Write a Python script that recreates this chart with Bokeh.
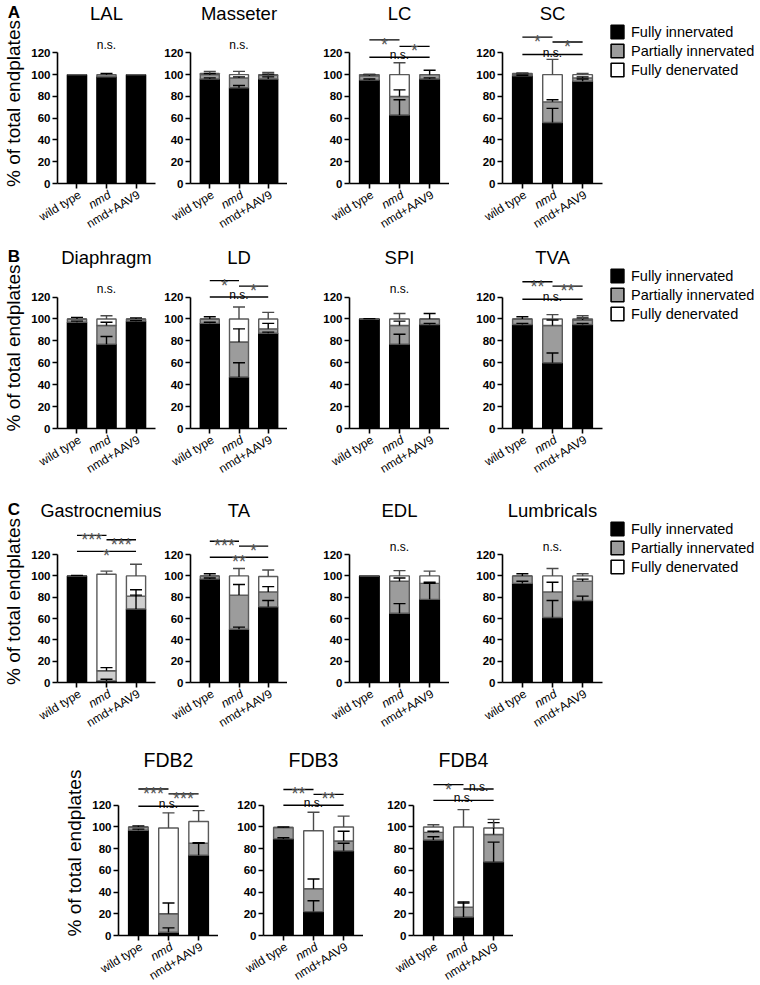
import numpy as np
from bokeh.plotting import figure
from bokeh.models import (ColumnDataSource, FactorRange, Range1d, Whisker, TeeHead,
                          Legend, LegendItem)
from bokeh.layouts import row, column
from bokeh.embed import file_html
from bokeh.resources import INLINE
from bokeh.core.properties import value

FONT = "Liberation Sans"
groups = ["wild type", "nmd", "nmd+AAV9"]
italic_groups = ["nmd"]
status = ["Fully innervated", "Partially innervated", "Fully denervated"]
status_fill = ["black", "#9c9c9c", "white"]
y_ticks = [0, 20, 40, 60, 80, 100, 120]
NS_ONLY_Y = 127

# ---------------- data (mean % of endplates, and SD) ----------------
LAL_full = [100, 98, 100]
LAL_part = [0, 2, 0]
LAL_den = [0, 0, 0]
LAL_sd_full = [0, 0, 0]
LAL_sd_part = [0, 1, 0]
LAL_sd_den = [0, 0, 0]

Masseter_full = [96, 88, 96]
Masseter_part = [4, 9, 3.5]
Masseter_den = [1, 3, 0.5]
Masseter_sd_full = [1, 2, 2]
Masseter_sd_part = [1, 1, 1]
Masseter_sd_den = [2, 3, 2]

LC_full = [95, 63, 96]
LC_part = [4, 17, 4]
LC_den = [1, 20, 0]
LC_sd_full = [1, 14, 1]
LC_sd_part = [1, 6, 4]
LC_sd_den = [0.5, 11, 0]
LC_sig = [("wild type", "nmd", 132, "*"), ("nmd", "nmd+AAV9", 126, "*"),
          ("wild type", "nmd+AAV9", 116, "n.s.")]

SC_full = [99, 56, 94]
SC_part = [1.5, 19, 3]
SC_den = [0.5, 25, 3]
SC_sd_full = [0.5, 13, 2]
SC_sd_part = [0.5, 2, 1]
SC_sd_den = [0.5, 14, 1]
SC_sig = [("wild type", "nmd", 134.5, "*"), ("nmd", "nmd+AAV9", 130, "*"),
          ("wild type", "nmd+AAV9", 118.5, "n.s.")]

Diaphragm_full = [97, 77, 98]
Diaphragm_part = [3, 17, 2]
Diaphragm_den = [0, 6, 0]
Diaphragm_sd_full = [1, 7, 0.5]
Diaphragm_sd_part = [1.5, 3, 1]
Diaphragm_sd_den = [0, 3, 0]

LD_full = [96, 47, 87]
LD_part = [4, 32, 4]
LD_den = [0, 21, 9]
LD_sd_full = [1, 13, 1]
LD_sd_part = [2, 12, 5]
LD_sd_den = [0, 11, 6]
LD_sig = [("wild type", "nmd", 135, "*"), ("nmd", "nmd+AAV9", 130, "*"),
          ("wild type", "nmd+AAV9", 120, "n.s.")]

SPI_full = [100, 77, 95]
SPI_part = [0, 17, 5]
SPI_den = [0, 6, 0]
SPI_sd_full = [0.3, 9, 1]
SPI_sd_part = [0, 4, 5]
SPI_sd_den = [0, 5, 0]

TVA_full = [95, 60, 95]
TVA_part = [5, 34, 4]
TVA_den = [0, 6, 1]
TVA_sd_full = [1, 9, 1]
TVA_sd_part = [2, 5, 2]
TVA_sd_den = [0, 4, 3]
TVA_sig = [("wild type", "nmd", 134, "**"), ("nmd", "nmd+AAV9", 130, "**"),
           ("wild type", "nmd+AAV9", 118, "n.s.")]

Gastro_full = [100, 1.5, 69]
Gastro_part = [0, 9.5, 12]
Gastro_den = [0, 90.5, 19]
Gastro_sd_full = [0.5, 1.5, 13]
Gastro_sd_part = [0, 3, 6]
Gastro_sd_den = [0, 3, 11]
Gastro_sig = [("wild type", "nmd", 138, "***"), ("nmd", "nmd+AAV9", 134, "***"),
              ("wild type", "nmd+AAV9", 123, "*")]

TA_full = [97, 50, 71]
TA_part = [3, 32, 14]
TA_den = [0, 18, 14.5]
TA_sd_full = [1, 2, 6]
TA_sd_part = [2, 10, 5]
TA_sd_den = [0, 7, 6]
TA_sig = [("wild type", "nmd", 132.5, "***"), ("nmd", "nmd+AAV9", 128, "*"),
          ("wild type", "nmd+AAV9", 117.5, "**")]

EDL_full = [100, 65, 78]
EDL_part = [0, 30, 15]
EDL_den = [0, 5, 7]
EDL_sd_full = [0, 9, 15]
EDL_sd_part = [0, 3, 1]
EDL_sd_den = [0, 5, 4.5]

Lumb_full = [93, 61, 77]
Lumb_part = [7, 24, 18]
Lumb_den = [0, 15, 5]
Lumb_sd_full = [2, 16, 4]
Lumb_sd_part = [2, 9, 2]
Lumb_sd_den = [0, 7, 2]

FDB2_full = [97, 3, 74]
FDB2_part = [3, 17, 11]
FDB2_den = [0, 79, 20]
FDB2_sd_full = [1, 4, 11]
FDB2_sd_part = [1, 10, 0.5]
FDB2_sd_den = [0, 14, 10]
FDB2_sig = [("wild type", "nmd", 135, "***"), ("nmd", "nmd+AAV9", 130.5, "***"),
            ("wild type", "nmd+AAV9", 119, "n.s.")]

FDB3_full = [89, 22, 78]
FDB3_part = [10.5, 21, 9]
FDB3_den = [0, 53.5, 13]
FDB3_sd_full = [1, 10, 7]
FDB3_sd_part = [0.5, 9, 9]
FDB3_sd_den = [0, 17, 10]
FDB3_sig = [("wild type", "nmd", 134.5, "**"), ("nmd", "nmd+AAV9", 130, "**"),
            ("wild type", "nmd+AAV9", 120, "n.s.")]

FDB4_full = [88, 17, 68]
FDB4_part = [7, 9, 25]
FDB4_den = [5, 74, 6]
FDB4_sd_full = [3, 13, 18]
FDB4_sd_part = [1, 5, 11]
FDB4_sd_den = [2, 16, 8]
FDB4_sig = [("wild type", "nmd", 139, "*"), ("nmd", "nmd+AAV9", 135, "n.s."),
            ("wild type", "nmd+AAV9", 124.5, "n.s.")]

LABEL_ANGLE = 0.55
RANGE_PAD = 0.16
FRAME_W = 100
SOURCES = {}


def make_panel(title, full, part, den, sd_full, sd_part, sd_den, sig=None, *,
               width, left, right, top, frame_h, bottom, y_end,
               ylabel=False, letter=None, gray="#9c9c9c",
               title_size="18.5px", title_align="center", title_offset=0):
    p = figure(width=width, height=top + frame_h + bottom,
               x_range=FactorRange(factors=groups, range_padding=RANGE_PAD,
                                   range_padding_units="absolute"),
               y_range=Range1d(0, y_end), output_backend="svg", toolbar_location=None,
               min_border_left=left, min_border_right=right, min_border_top=top,
               min_border_bottom=bottom, outline_line_color=None,
               background_fill_color="white", border_fill_color="white", title=title)
    p.title.align = title_align
    p.title.offset = title_offset
    p.title.text_font = FONT
    p.title.text_font_size = title_size
    p.title.text_font_style = "normal"
    p.title.text_color = "black"
    p.title.standoff = 0
    p.xgrid.grid_line_color = None
    p.ygrid.grid_line_color = None

    # axes
    p.yaxis.ticker = y_ticks
    p.yaxis.bounds = (0, 120)
    p.yaxis.minor_tick_line_color = None
    p.yaxis.major_tick_in = 0
    p.yaxis.major_tick_out = 5
    p.yaxis.major_label_standoff = 2
    p.yaxis.major_label_text_font = FONT
    p.yaxis.major_label_text_font_style = "bold"
    p.yaxis.major_label_text_font_size = "11.5px"
    p.yaxis.major_label_text_color = "black"
    for ax in (p.xaxis, p.yaxis):
        ax.axis_line_width = 1.6
        ax.major_tick_line_width = 1.6
        ax.axis_line_color = "black"
        ax.major_tick_line_color = "black"
    p.xaxis.major_tick_in = 0
    p.xaxis.major_tick_out = 5
    p.xaxis.major_label_text_font_size = "0px"
    p.xaxis.major_label_text_color = None
    p.xaxis.major_label_standoff = 0
    if ylabel:
        p.yaxis.axis_label = "% of total endplates"
        p.yaxis.axis_label_text_font = FONT
        p.yaxis.axis_label_text_font_size = "19px"
        p.yaxis.axis_label_text_font_style = "normal"
        p.yaxis.axis_label_text_color = "black"
        p.yaxis.axis_label_standoff = 4

    # stacked bars
    src = ColumnDataSource(dict(group=groups, full=full, part=part, den=den))
    SOURCES[title] = src
    p.vbar_stack(["full", "part", "den"], x="group", width=0.65, source=src,
                 fill_color=["black", gray, "white"],
                 line_color=["black", "#5a5a5a", "#5a5a5a"], line_width=1.4)

    # error bars (upper SD) at the top of each stacked segment
    f, pa, d = np.array(full, float), np.array(part, float), np.array(den, float)
    tops = [f, f + pa, f + pa + d]
    for top_vals, sds, col in zip(tops, [sd_full, sd_part, sd_den],
                                  ["black", "black", "#4a4a4a"]):
        keep = [i for i in range(3) if sds[i] > 0]
        if not keep:
            continue
        wsrc = ColumnDataSource(dict(base=[groups[i] for i in keep],
                                     lower=[float(top_vals[i]) for i in keep],
                                     upper=[float(top_vals[i] + sds[i]) for i in keep]))
        p.add_layout(Whisker(source=wsrc, base="base", lower="lower", upper="upper",
                             dimension="height", line_color=col, line_width=1.4,
                             upper_head=TeeHead(size=12, line_color=col, line_width=1.4),
                             lower_head=None, level="annotation"))

    # significance
    if sig:
        x0 = [groups.index(a) + 0.5 for a, b, y, t in sig]
        x1 = [groups.index(b) + 0.5 for a, b, y, t in sig]
        ys = [y for a, b, y, t in sig]
        p.segment(x0=x0, y0=ys, x1=x1, y1=ys, line_color="black", line_width=1.4)
        mids = [(a + b) / 2 for a, b in zip(x0, x1)]
        st = [(m, y, t) for m, (aa, bb, y, t) in zip(mids, sig) if t != "n.s."]
        ns = [(m, y, t) for m, (aa, bb, y, t) in zip(mids, sig) if t == "n.s."]
        if st:
            p.text(x=[s[0] for s in st], y=[s[1] for s in st], text=[s[2] for s in st],
                   text_align="center", text_baseline="alphabetic", y_offset=5,
                   text_font=value(FONT), text_font_size="18px", text_color="#555555")
        if ns:
            p.text(x=[s[0] for s in ns], y=[s[1] for s in ns], text=[s[2] for s in ns],
                   text_align="center", text_baseline="alphabetic", y_offset=-2,
                   text_font=value(FONT), text_font_size="12px", text_color="black")
    else:
        p.text(x=[groups[1]], y=[NS_ONLY_Y], text=["n.s."], text_align="center",
               text_baseline="middle", text_font=value(FONT), text_font_size="12px",
               text_color="black")

    # rotated category labels (nmd in italics)
    normal = [g for g in groups if g not in italic_groups]
    ital = [g for g in groups if g in italic_groups]
    for labs, style in ((normal, "normal"), (ital, "italic")):
        p.text(x=labs, y=[0] * len(labs), text=labs, angle=LABEL_ANGLE,
               text_align="right", text_baseline="middle", x_offset=3, y_offset=10,
               text_font=value(FONT), text_font_size="12px",
               text_font_style=style, text_color="black", level="overlay")

    if letter:
        p.text(x=[-RANGE_PAD / 2], y=[y_end], text=[letter], x_offset=-left + 3,
               y_offset=-11, text_align="left", text_baseline="middle",
               text_font=value(FONT), text_font_style="bold", text_font_size="17px",
               text_color="black", level="overlay")
    return p


def make_legend(height, top, src):
    """Key for the three stacked segments, in its own narrow canvas right of a row.
    Its bar renderers reuse the neighbouring panel's data and are hidden."""
    p = figure(width=153, height=height,
               x_range=FactorRange(factors=groups), y_range=Range1d(0, 150),
               output_backend="svg", toolbar_location=None, title=None,
               x_axis_location=None, y_axis_location=None,
               min_border_left=5, min_border_right=0, min_border_top=top,
               min_border_bottom=0, outline_line_color=None,
               background_fill_color="white", border_fill_color="white")
    p.xgrid.grid_line_color = None
    p.ygrid.grid_line_color = None
    rends = p.vbar_stack(["full", "part", "den"], x="group", width=0.65, source=src,
                         fill_color=status_fill, line_color="black", line_width=1.6)
    for r in rends:
        r.visible = False
    items = [LegendItem(label=s, renderers=[r]) for s, r in zip(status, rends)]
    leg = Legend(items=items, location="top_left", orientation="vertical",
                 glyph_width=16, glyph_height=17, label_height=17, spacing=2,
                 padding=0, margin=0, label_standoff=6, label_text_font=FONT,
                 label_text_font_size="14.5px", label_text_color="black",
                 border_line_color=None, background_fill_alpha=0,
                 inactive_fill_alpha=0)
    p.add_layout(leg)
    return p


cols = [dict(width=55 + FRAME_W + 6, left=55, right=6), dict(width=26 + FRAME_W, left=26, right=0),
        dict(width=62 + FRAME_W, left=62, right=0), dict(width=53 + FRAME_W + 2, left=53, right=2)]
rowA_v = dict(top=23, frame_h=160, bottom=61, y_end=147)
rowB_v = dict(top=22, frame_h=162, bottom=65, y_end=147)
rowC_v = dict(top=22, frame_h=167, bottom=64, y_end=152)
rowD_v = dict(top=22, frame_h=167, bottom=48, y_end=152)


def row_h(v):
    return v["top"] + v["frame_h"] + v["bottom"]


rowA_figs = [
    make_panel("LAL", LAL_full, LAL_part, LAL_den, LAL_sd_full, LAL_sd_part, LAL_sd_den,
               ylabel=True, letter="A", **cols[0], **rowA_v),
    make_panel("Masseter", Masseter_full, Masseter_part, Masseter_den, Masseter_sd_full,
               Masseter_sd_part, Masseter_sd_den, **cols[1], **rowA_v),
    make_panel("LC", LC_full, LC_part, LC_den, LC_sd_full, LC_sd_part, LC_sd_den, LC_sig,
               **cols[2], **rowA_v),
    make_panel("SC", SC_full, SC_part, SC_den, SC_sd_full, SC_sd_part, SC_sd_den, SC_sig,
               **cols[3], **rowA_v),
]
rowA = row(rowA_figs + [make_legend(row_h(rowA_v), 15, SOURCES["SC"])], spacing=0)

rowB_figs = [
    make_panel("Diaphragm", Diaphragm_full, Diaphragm_part, Diaphragm_den, Diaphragm_sd_full,
               Diaphragm_sd_part, Diaphragm_sd_den, ylabel=True, letter="B", **cols[0], **rowB_v),
    make_panel("LD", LD_full, LD_part, LD_den, LD_sd_full, LD_sd_part, LD_sd_den, LD_sig,
               **cols[1], **rowB_v),
    make_panel("SPI", SPI_full, SPI_part, SPI_den, SPI_sd_full, SPI_sd_part, SPI_sd_den,
               **cols[2], **rowB_v),
    make_panel("TVA", TVA_full, TVA_part, TVA_den, TVA_sd_full, TVA_sd_part, TVA_sd_den, TVA_sig,
               **cols[3], **rowB_v),
]
rowB = row(rowB_figs + [make_legend(row_h(rowB_v), 13, SOURCES["TVA"])], spacing=0)

rowC_figs = [
    make_panel("Gastrocnemius", Gastro_full, Gastro_part, Gastro_den, Gastro_sd_full,
               Gastro_sd_part, Gastro_sd_den, Gastro_sig, ylabel=True, letter="C",
               gray="#cfcfcf", title_align="left", title_offset=-17, title_size="18px",
               **cols[0], **rowC_v),
    make_panel("TA", TA_full, TA_part, TA_den, TA_sd_full, TA_sd_part, TA_sd_den, TA_sig,
               **cols[1], **rowC_v),
    make_panel("EDL", EDL_full, EDL_part, EDL_den, EDL_sd_full, EDL_sd_part, EDL_sd_den,
               **cols[2], **rowC_v),
    make_panel("Lumbricals", Lumb_full, Lumb_part, Lumb_den, Lumb_sd_full, Lumb_sd_part,
               Lumb_sd_den, **cols[3], **rowC_v),
]
rowC = row(rowC_figs + [make_legend(row_h(rowC_v), 27, SOURCES["Lumbricals"])], spacing=0)

rowD = row([
    make_panel("FDB2", FDB2_full, FDB2_part, FDB2_den, FDB2_sd_full, FDB2_sd_part, FDB2_sd_den,
               FDB2_sig, ylabel=True, width=118 + FRAME_W, left=118, right=0,
               title_size="19.5px", **rowD_v),
    make_panel("FDB3", FDB3_full, FDB3_part, FDB3_den, FDB3_sd_full, FDB3_sd_part, FDB3_sd_den,
               FDB3_sig, width=45 + FRAME_W, left=45, right=0, title_size="19.5px", **rowD_v),
    make_panel("FDB4", FDB4_full, FDB4_part, FDB4_den, FDB4_sd_full, FDB4_sd_part, FDB4_sd_den,
               FDB4_sig, width=50 + FRAME_W, left=50, right=0, title_size="19.5px", **rowD_v),
], spacing=0)

layout = column([rowA, rowB, rowC, rowD], spacing=0)
open("out.html", "w").write(file_html(layout, INLINE))
